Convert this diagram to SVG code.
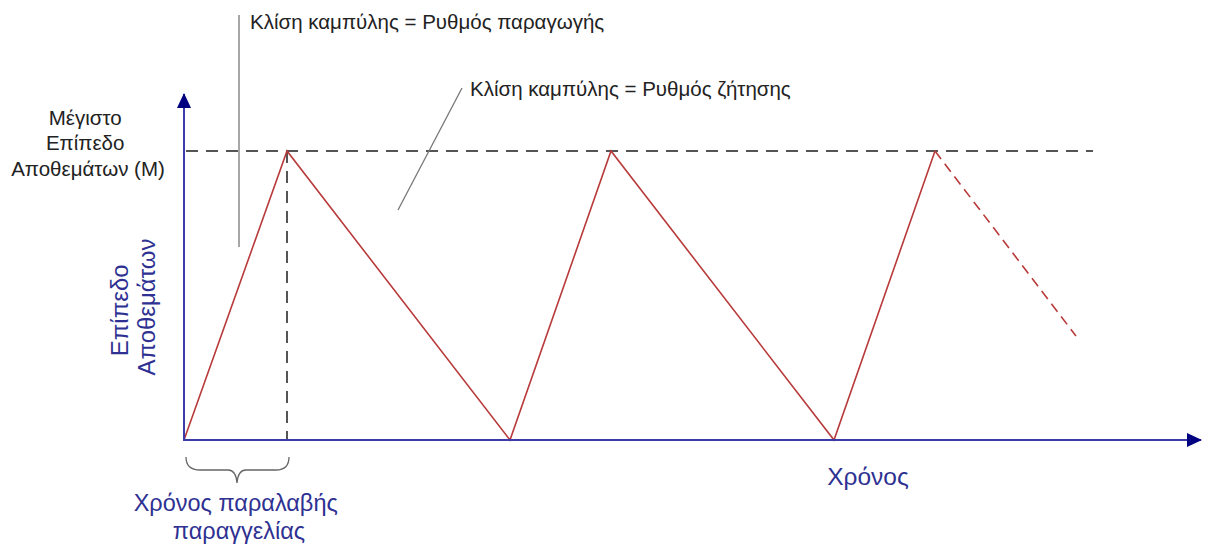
<svg xmlns="http://www.w3.org/2000/svg" width="1209" height="547" viewBox="0 0 1209 547">
<style>
.lbl{font-family:"Liberation Sans",Arial,sans-serif;fill:#222;}
.blue{font-family:"Liberation Sans",Arial,sans-serif;fill:#2e3192;}
.axis{stroke:#3c3ca8;stroke-width:2;fill:none;}
.inv{stroke:#b83a3a;stroke-width:1.6;fill:none;}
.dash{stroke:#555;stroke-width:2;stroke-dasharray:12,8;fill:none;}
.lead{stroke:#777;stroke-width:1.3;fill:none;}
</style>
<defs>
<marker id="arr" markerWidth="15" markerHeight="14" refX="14" refY="7" orient="auto" markerUnits="userSpaceOnUse" viewBox="0 0 15 14">
<path d="M0,0 L15,7 L0,14 z" fill="#000080"/>
</marker>
</defs>
<g id="connectors">
<line class="dash" x1="186" y1="151" x2="1093" y2="151"/>
<line class="dash" x1="287" y1="151" x2="287" y2="440"/>
<polyline class="inv" points="184,440 287,151 510,440 611,151 834,440 935,151"/>
<line class="inv" x1="935" y1="151" x2="1076" y2="336" stroke-dasharray="10,6"/>
<line class="lead" x1="239" y1="15" x2="239" y2="247"/>
<line class="lead" x1="398" y1="210" x2="462" y2="88"/>
<path d="M186,457 Q186,470 200,470 L228,470 Q236,470 237,483 Q238,470 246,470 L276,470 Q289,470 289,457" stroke="#666" stroke-width="1.3" fill="none"/>
</g>
<g id="axes">
<line class="axis" x1="184" y1="441" x2="184" y2="94" marker-end="url(#arr)"/>
<line class="axis" x1="183" y1="440" x2="1201" y2="440" marker-end="url(#arr)"/>
</g>
<g id="title1"><text class="lbl" x="250" y="29" font-size="20.5">Κλίση καμπύλης = Ρυθμός παραγωγής</text></g>
<g id="title2"><text class="lbl" x="470" y="96" font-size="20.5">Κλίση καμπύλης = Ρυθμός ζήτησης</text></g>
<g id="maxlabel">
<text class="lbl" font-size="20.5" text-anchor="middle">
<tspan x="88" y="125">Μέγιστο</tspan>
<tspan x="88" y="150">Επίπεδο</tspan>
<tspan x="88" y="176">Αποθεμάτων (Μ)</tspan>
</text>
</g>
<g id="ylabel">
<text class="blue" font-size="24" text-anchor="middle" transform="translate(128,307) rotate(-90)">
<tspan x="0" y="0">Επίπεδο</tspan>
<tspan x="0" y="27">Αποθεμάτων</tspan>
</text>
</g>
<g id="leadtime">
<text class="blue" font-size="23.5" text-anchor="middle">
<tspan x="239" y="511">Χρόνος παραλαβής</tspan>
<tspan x="239" y="539">παραγγελίας</tspan>
</text>
</g>
<g id="xlabel"><text class="blue" x="868" y="485" font-size="24.5" text-anchor="middle">Χρόνος</text></g>
</svg>
